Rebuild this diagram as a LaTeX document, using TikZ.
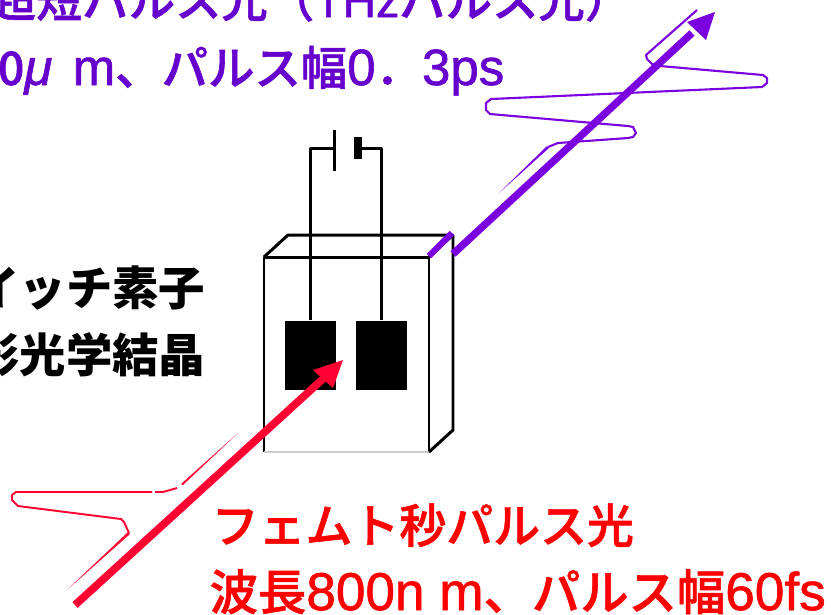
\documentclass[tikz,border=0pt]{standalone}
\usepackage{amsmath}
\usepackage{fontspec}
\setmainfont[FakeBold=1.2]{Noto Sans CJK JP Medium}
\newfontfamily\boldjp{Noto Sans CJK JP}
\newfontfamily\latinwide[FakeBold=1.2,Scale=1.1]{Liberation Sans}
\newfontfamily\latinplain[FakeBold=1.2]{Liberation Sans}
\newfontfamily\latinital[FakeBold=1.2,Scale=1.1]{Liberation Sans Italic}
\usepackage{tikz}
\usetikzlibrary{arrows.meta}
\definecolor{thzviolet}{HTML}{7A00E0}
\definecolor{thztext}{HTML}{6600CC}
\definecolor{laserred}{HTML}{FF0033}
\tikzset{
    wire/.style={line width=0.85pt, black},
    caption/.style={inner sep=0pt, font=\fontsize{13.2pt}{16pt}\selectfont},
    heavycaption/.style={inner sep=0pt, font=\fontsize{13.2pt}{16pt}\selectfont\boldjp\bfseries},
    electrode/.style={fill=black, inner sep=0pt, minimum width=0.51cm, minimum height=0.69cm},
}

\begin{document}
\begin{tikzpicture}[line join=round]
        \useasboundingbox (0,0) rectangle (8.31,-6.14);

        % Crystal
        \draw[wire] (2.64,-4.52) -- (2.64,-2.57) -- (4.29,-2.57) -- (4.29,-4.52);
        \draw[line width=0.3pt, black!20] (2.64,-4.52) -- (4.29,-4.52);
        \draw[wire] (2.64,-2.57) -- (2.88,-2.35) -- (4.53,-2.35) -- (4.53,-4.30) -- (4.29,-4.52);
        \draw[wire] (4.29,-2.57) -- (4.53,-2.35);

        % Electrodes and battery
        \node[electrode] (leftpad) at (3.105,-3.555) {};
        \node[electrode] (rightpad) at (3.815,-3.555) {};
        \coordinate (plateL) at (3.345,-1.48);
        \coordinate (plateR) at (3.62,-1.48);
        \draw[wire] (leftpad.north) -- (3.105,-1.48) -- (plateL);
        \draw[wire] (rightpad.north) -- (3.815,-1.48) -- (plateR);
        \draw[wire] (3.345,-1.30) -- (3.345,-1.71);
        \fill[black] (3.54,-1.37) rectangle (3.62,-1.59);

        % Red pulse
        \draw[line width=2.2pt, laserred] (0.75,-6.05) -- (3.25,-3.77);
        \fill[laserred] (3.43,-3.60) -- (3.13,-3.70) -- (3.33,-3.88) -- cycle;
        \fill[laserred] (0.68,-5.89) -- (1.28,-5.32) -- (1.30,-5.34) -- cycle;
        \draw[line width=0.55pt, laserred] (1.29,-5.33) -- (1.24,-5.22) -- (1.21,-5.19) -- (0.18,-5.06) -- (0.12,-5.00) -- (0.12,-4.95) -- (0.16,-4.92) -- (1.52,-4.92);
        \draw[line width=0.55pt, laserred] (1.55,-4.92) -- (1.63,-4.92) -- (1.77,-4.88);
        \fill[laserred] (1.81,-4.84) -- (1.83,-4.85) -- (2.38,-4.33) -- cycle;

        % THz pulse
        \draw[line width=1.8pt, thzviolet] (4.29,-2.56) -- (4.52,-2.33);
        \draw[line width=2.1pt, thzviolet] (4.53,-2.54) -- (6.92,-0.33);
        \fill[thzviolet] (7.15,-0.12) -- (6.87,-0.22) -- (7.06,-0.40) -- cycle;
        \fill[thzviolet] (4.99,-1.93) -- (5.47,-1.46) -- (5.49,-1.48) -- cycle;
        \draw[line width=0.6pt, thzviolet] (5.48,-1.47) -- (5.58,-1.43) -- (6.28,-1.38) -- (6.33,-1.37) -- (6.36,-1.33) -- (6.33,-1.27) -- (6.28,-1.26) -- (4.90,-1.14) -- (4.86,-1.10) -- (4.86,-1.03) -- (4.91,-0.99) -- (7.62,-0.87) -- (7.67,-0.83) -- (7.67,-0.78) -- (7.63,-0.75) -- (6.60,-0.66) -- (6.52,-0.64) -- (6.47,-0.59) -- (6.46,-0.55) -- (6.97,-0.10);

        % Labels
        \node[caption, text=thztext, anchor=base east] (thztitle) at (6.32,-0.17) {超短パルス光（{\latinplain THz}パルス光）};
        \node[caption, text=thztext, anchor=base east] (thzdata) at (5.05,-0.85) {波長300{\latinital μ}\hspace{0.1cm} {\latinwide m}、パルス幅{\latinwide 0}．{\latinwide 3ps}};
        \node[heavycaption, anchor=base east] (switchlabel) at (2.06,-3.05) {光スイッチ素子};
        \node[heavycaption, anchor=base east] (crystallabel) at (2.06,-3.72) {非線形光学結晶};
        \node[caption, text=red, anchor=base west] (redtitle) at (2.11,-5.43) {\fontsize{13.35pt}{16pt}\selectfont フェムト秒パルス光};
        \node[caption, text=red, anchor=base west] (reddata) at (2.09,-6.10) {\fontsize{13.75pt}{16pt}\selectfont 波長{\latinwide 800n m}、パルス幅{\latinwide 60fs}};
    \end{tikzpicture}
\end{document}
